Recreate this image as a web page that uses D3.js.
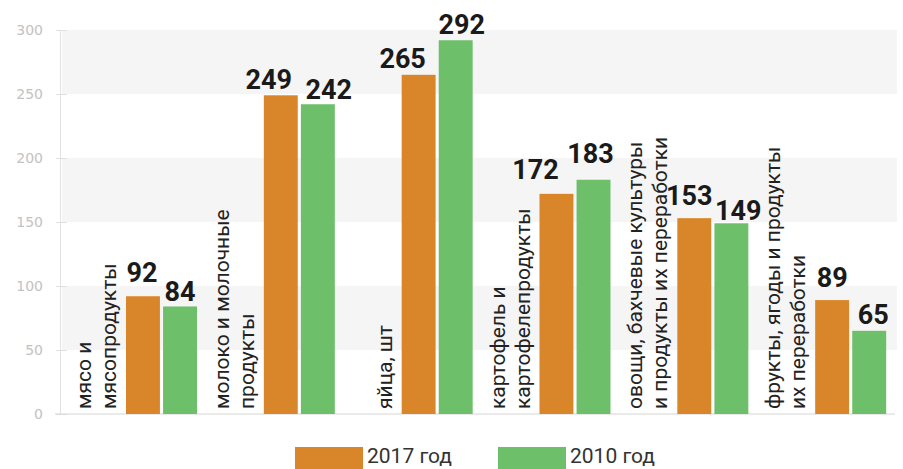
<script src="https://cdn.jsdelivr.net/npm/d3@7"></script>
<style>
    body { margin: 0; background: #fff; }
    svg { display: block; font-family: Roboto, sans-serif; }
</style>
<svg width="903" height="469"></svg>
<script>
    // data
    var categories = ["meat", "milk", "eggs", "potato", "veg", "fruit"];
    var catLabels = [
        ["мясо и", "мясопродукты"],
        ["молоко и молочные", "продукты"],
        ["яйца, шт"],
        ["картофель и", "картофелепродукты"],
        ["овощи, бахчевые культуры", "и продукты их переработки"],
        ["фрукты, ягоды и продукты", "их переработки"]
    ];
    var series = ["2017 год", "2010 год"];
    var values2017 = [92, 249, 265, 172, 153, 89];
    var values2010 = [84, 242, 292, 183, 149, 65];
    var yTicks = [0, 50, 100, 150, 200, 250, 300];

    // hand nudges of value labels (dx from bar centre, gap above bar top)
    var nudge2017 = [[-1, 14], [-12, 6], [-16, 7], [-21, 15], [-5, 13], [0, 13]];
    var nudge2010 = [[0, 5], [11, 5], [6, 6], [-3, 17], [7, 3], [4, 7]];

    var colors = ["#d9862b", "#6dbf6a"];

    var svg = d3.select("svg");

    var y = d3.scaleLinear().domain([0, 300]).range([414, 30]);
    var x = d3.scaleBand().domain(categories).range([60, 887]).padding(0);
    var xInner = d3.scaleBand().domain(series).range([66, 137]).paddingInner(0.085);

    // grey stripes
    var stripes = [[250, 300], [150, 200], [50, 100]];
    svg.append("g").selectAll("rect")
        .data(stripes)
        .enter().append("rect")
        .attr("x", 62)
        .attr("width", 835)
        .attr("y", function(d) { return y(d[1]); })
        .attr("height", function(d) { return y(d[0]) - y(d[1]); })
        .attr("fill", "#f5f5f5");

    // y axis
    var yAxis = svg.append("g")
        .attr("transform", "translate(60,0)")
        .call(d3.axisLeft(y).tickValues(yTicks).tickSize(0).tickPadding(17));
    yAxis.select(".domain").attr("stroke", "#e2e2e2");
    yAxis.selectAll("text")
        .attr("fill", "#c2c2c2")
        .style("font-family", "'DejaVu Sans', sans-serif")
        .style("font-size", "14px");
    yAxis.selectAll(".tick").append("line")
        .attr("x1", -4).attr("x2", 7)
        .attr("stroke", "#e0e0e0");

    // baseline
    svg.append("line")
        .attr("x1", 55).attr("x2", 895)
        .attr("y1", y(0)).attr("y2", y(0))
        .attr("stroke", "#d6d6d6");

    // bars
    var groups = svg.append("g").selectAll("g")
        .data(categories)
        .enter().append("g")
        .attr("transform", function(d) { return "translate(" + x(d) + ",0)"; });

    var allVals = [values2017, values2010];
    var nudges = [nudge2017, nudge2010];

    series.forEach(function(s, si) {
        groups.append("rect")
            .attr("x", xInner(s))
            .attr("width", xInner.bandwidth())
            .attr("y", function(d, i) { return y(allVals[si][i]); })
            .attr("height", function(d, i) { return y(0) - y(allVals[si][i]); })
            .attr("fill", colors[si]);

        groups.append("text")
            .attr("x", function(d, i) { return xInner(s) + xInner.bandwidth() / 2 + nudges[si][i][0]; })
            .attr("y", function(d, i) { return y(allVals[si][i]) - nudges[si][i][1]; })
            .attr("text-anchor", "middle")
            .attr("font-weight", "bold")
            .attr("font-size", "27px")
            .attr("fill", "#1a1a1a")
            .text(function(d, i) { return allVals[si][i]; });
    });

    // rotated category labels, left of the bars
    groups.each(function(d, i) {
        var lines = catLabels[i];
        var g = d3.select(this);
        lines.forEach(function(line, li) {
            var bx = xInner(series[0]) - 10 - (lines.length - 1 - li) * 25;
            g.append("text")
                .attr("transform", "translate(" + bx + ",409) rotate(-90)")
                .attr("font-size", "21px")
                .attr("fill", "#222")
                .text(line);
        });
    });

    // legend
    var legend = svg.append("g").selectAll("g")
        .data(series)
        .enter().append("g")
        .attr("transform", function(d, i) { return "translate(" + (295 + i * 203) + ",447)"; });

    legend.append("rect")
        .attr("width", 68)
        .attr("height", 24)
        .attr("fill", function(d, i) { return colors[i]; });

    legend.append("text")
        .attr("x", 72)
        .attr("y", 16)
        .attr("font-size", "21px")
        .attr("fill", "#333")
        .text(function(d) { return d; });
</script>
